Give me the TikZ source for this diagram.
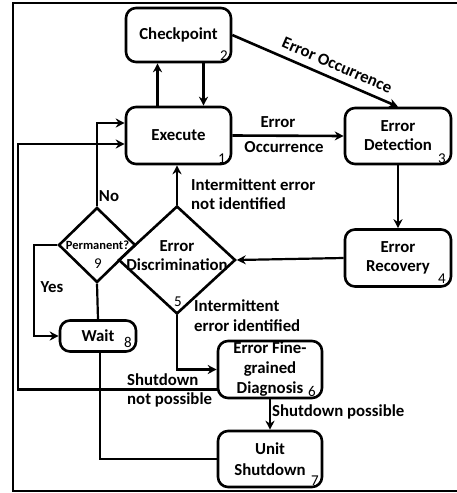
\documentclass[tikz,border=0pt]{standalone}
\usepackage{fontspec}
\setmainfont{Carlito}
\usetikzlibrary{shapes.geometric,arrows.meta,calc}
\begin{document}
\begin{tikzpicture}[x=1pt,y=-1pt,
  font=\fontsize{16.8}{19}\selectfont\bfseries,
  box/.style={draw,line width=2.6pt,rounded corners=10pt,align=center,inner sep=0pt},
  dia/.style={draw,diamond,line width=2.6pt,inner sep=0pt},
  num/.style={inner sep=0pt,font=\fontsize{15}{16}\selectfont},
  lbl/.style={inner sep=0pt,align=left},
  arr/.style={line width=2.6pt,-{Stealth[length=9pt,width=9pt]}},
  ln/.style={line width=2.2pt},
]
\useasboundingbox (0,0) rectangle (456,493);
% frame
\draw[line width=2pt] (460,3) -- (13,3) -- (13,491) -- (460,491);

% nodes
\node[box,minimum width=105pt,minimum height=54pt] (cp) at (178.5,35) {Checkpoint};
\node[box,minimum width=105pt,minimum height=57pt] (exe) at (178.5,135.5) {Execute};
\node[box,minimum width=106pt,minimum height=56pt] (det) at (398,136) {Error\\Detection};
\node[box,minimum width=106pt,minimum height=57pt] (rec) at (398,258) {Error\\Recovery};
\node[box,minimum width=104pt,minimum height=57pt,font=\fontsize{16.8}{20}\selectfont\bfseries] (fgd) at (270,369.5) {Error Fine-\\grained\\Diagnosis};
\node[box,minimum width=104pt,minimum height=56pt,font=\fontsize{16.8}{21}\selectfont\bfseries] (us) at (270,459) {Unit\\Shutdown};
\node[box,minimum width=76pt,minimum height=31pt] (wait) at (98,336) {Wait};
\node[dia,minimum width=117pt,minimum height=108pt] (disc) at (177,260) {};
\node[inner sep=0pt,align=center] (disctxt) at (177,256) {Error\\Discrimination};
\node[dia,minimum width=77pt,minimum height=75pt] (perm) at (97,245) {};
\node[inner sep=0pt,font=\fontsize{12.5}{14}\selectfont\bfseries] (permtxt) at (97.5,245) {Permanent?};

% numbers
\node[num] (n1) at (222,159) {1};
\node[num] (n2) at (224,56) {2};
\node[num] (n3) at (442,159) {3};
\node[num] (n4) at (442,279) {4};
\node[num] (n5) at (178,302) {5};
\node[num] (n6) at (312,391) {6};
\node[num] (n7) at (315,481) {7};
\node[num] (n8) at (128,342) {8};
\node[num] (n9) at (98,264) {9};

% connectors
\draw[arr] ([xshift=-21pt]exe.north) -- ([xshift=-21pt]cp.south);
\draw[arr] ([xshift=25pt]cp.south) -- ([xshift=25pt]exe.north);
\draw[arr] (cp.east) -- node[pos=0.6,sloped,above=7pt,inner sep=0pt] (leo) {Error Occurrence} (det.north);
\draw[arr] (exe.east) -- (det.west);
\node[lbl] (lerr) at (278,122) {Error};
\node[lbl] (locc) at (284,147) {Occurrence};
\draw[arr] (det.south) -- (rec.north);
\draw[arr,line width=2.2pt] (rec.west) -- (disc.east);
\draw[arr] (disc.north) -- (disc.north |- exe.south);
\draw[arr] (disc.south) |- (fgd.west);
\draw[arr] (perm.north) |- ([yshift=12.5pt]exe.west);
\coordinate (lc) at (18,144);
\draw[arr] ([yshift=-20pt]fgd.west) -| (lc) -- ([yshift=-8.5pt]exe.west);
\coordinate (yc) at (34,336);
\draw[arr] (perm.west) -| (yc) -- (wait.west);
\draw[ln] (perm.south) -- (wait.north);
\draw[ln] ([xshift=2pt]wait.south) |- (us.west);
\draw[arr] (fgd.south) -- (us.north);

% labels
\node[lbl,anchor=west] (lint) at (191,194.5) {Intermittent error\\not identified};
\node[lbl] (lno) at (109,196) {No};
\node[lbl] (lyes) at (52,287) {Yes};
\node[lbl,anchor=west,font=\fontsize{16.8}{20}\selectfont\bfseries] (lid) at (194,316) {Intermittent\\error identified};
\node[lbl,anchor=west] (lsnp) at (127,390.5) {Shutdown\\not possible};
\node[lbl,anchor=west] (lsp) at (272,412) {Shutdown possible};
\end{tikzpicture}
\end{document}
